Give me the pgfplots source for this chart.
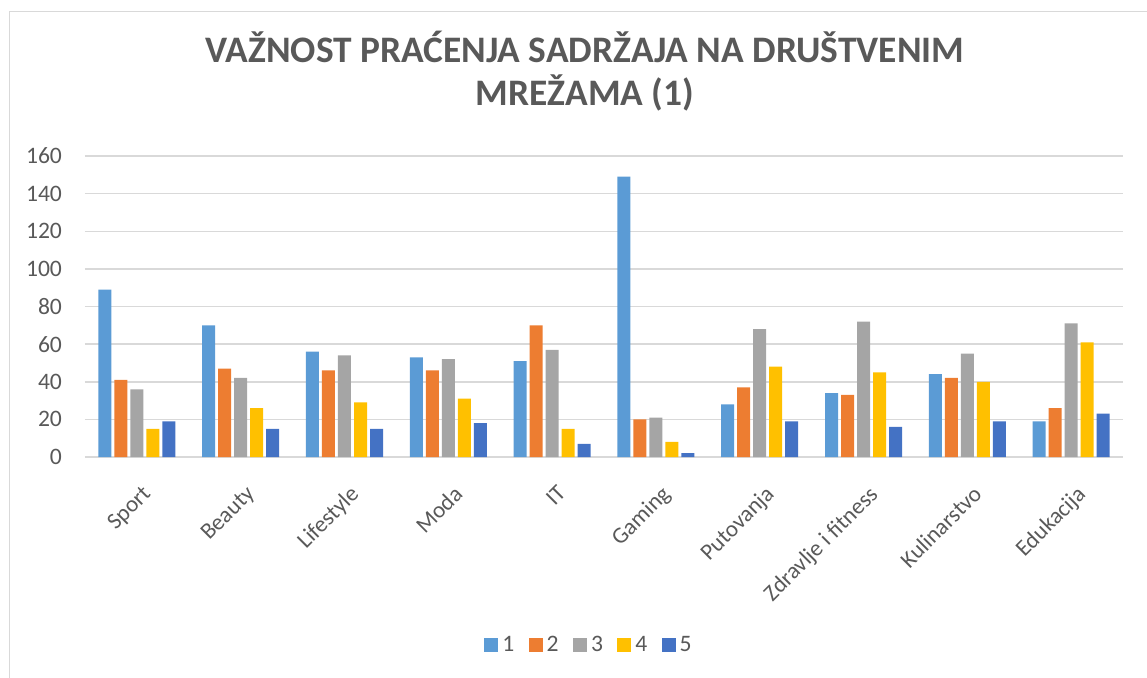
\documentclass[border=0pt]{standalone}
\usepackage{pgfplots}
\pgfplotsset{compat=1.18}
\usepackage{fontspec}
\setmainfont{Carlito}
\definecolor{c1}{HTML}{5B9BD5}
\definecolor{c2}{HTML}{ED7D31}
\definecolor{c3}{HTML}{A5A5A5}
\definecolor{c4}{HTML}{FFC000}
\definecolor{c5}{HTML}{4472C4}
\definecolor{txt}{HTML}{595959}
\definecolor{grd}{HTML}{D9D9D9}
\begin{document}
\begin{tikzpicture}[x=0.5pt,y=0.5pt]
\useasboundingbox (0,0) rectangle (1147,677);
\draw[grd,line width=0.9pt] (9.5,-5) -- (9.5,665.5) -- (1160,665.5);
\node[txt,font=\fontsize{18.7}{22}\selectfont\bfseries,anchor=base] at (585,615) {VAŽNOST PRAĆENJA SADRŽAJA NA DRUŠTVENIM};
\node[txt,font=\fontsize{18.7}{22}\selectfont\bfseries,anchor=base] at (585,572) {MREŽAMA (1)};
\begin{axis}[
  at={(85pt*0.5,220pt*0.5)}, anchor=south west,
  scale only axis, width=519pt, height=150.5pt,
  ybar=1.5pt, bar width=6.5pt,
  xmin=-0.5, xmax=9.5, ymin=0, ymax=160,
  ytick={0,20,...,160},
  xtick={0,...,9},
  xticklabels={Sport,Beauty,Lifestyle,Moda,IT,Gaming,Putovanja,Zdravlje i fitness,Kulinarstvo,Edukacija},
  x tick label style={rotate=45,anchor=north east,font=\fontsize{11.5}{13}\selectfont,text=txt,inner sep=1pt,xshift=-7pt,yshift=-10pt},
  y tick label style={font=\fontsize{11.8}{13}\selectfont,text=txt},
  /pgf/number format/assume math mode=true,
  major tick length=0pt,
  axis line style={draw=none},
  ymajorgrids, grid style={grd,line width=0.75pt},
  yticklabel style={xshift=-8pt},
  enlarge x limits=false,
  legend style={at={(0.4865,-0.6246)},anchor=center,draw=none,fill=none,legend columns=-1,
    font=\fontsize{11.8}{13}\selectfont,text=txt,
    /tikz/every even column/.append style={column sep=5.2pt}},
  legend image code/.code={\fill[#1] (0pt,-3.5pt) rectangle (7pt,3.5pt);},
  clip=false,
]
\addplot[fill=c1,draw=none] coordinates {(0,89) (1,70) (2,56) (3,53) (4,51) (5,149) (6,28) (7,34) (8,44) (9,19)};
\addplot[fill=c2,draw=none] coordinates {(0,41) (1,47) (2,46) (3,46) (4,70) (5,20) (6,37) (7,33) (8,42) (9,26)};
\addplot[fill=c3,draw=none] coordinates {(0,36) (1,42) (2,54) (3,52) (4,57) (5,21) (6,68) (7,72) (8,55) (9,71)};
\addplot[fill=c4,draw=none] coordinates {(0,15) (1,26) (2,29) (3,31) (4,15) (5,8) (6,48) (7,45) (8,40) (9,61)};
\addplot[fill=c5,draw=none] coordinates {(0,19) (1,15) (2,15) (3,18) (4,7) (5,2) (6,19) (7,16) (8,19) (9,23)};
\legend{1,2,3,4,5}
\end{axis}
\end{tikzpicture}
\end{document}
